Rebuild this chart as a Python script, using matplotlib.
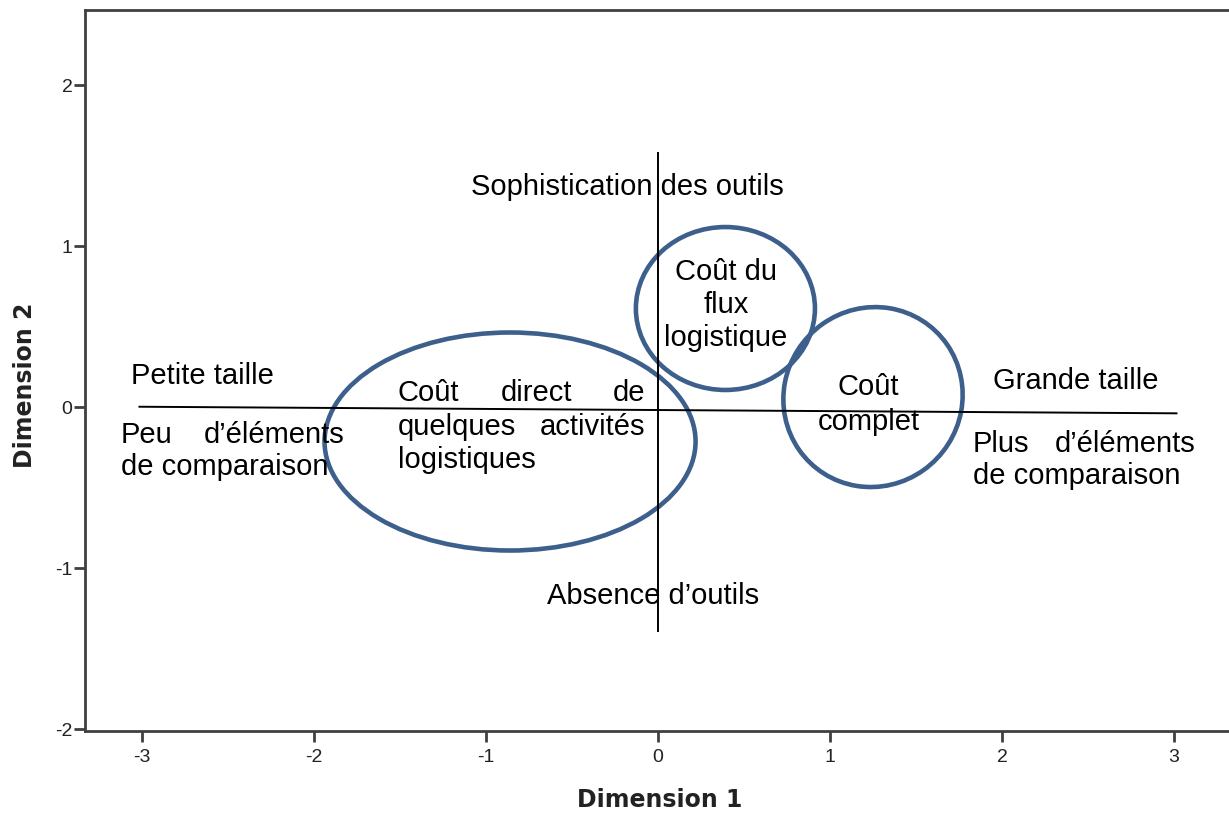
import matplotlib
matplotlib.use("Agg")
import matplotlib.pyplot as plt
from matplotlib.patches import Ellipse

# ---- data ----
x_ticks = [-3, -2, -1, 0, 1, 2, 3]
y_ticks = [-2, -1, 0, 1, 2]
x_label = "Dimension 1"
y_label = "Dimension 2"

# reference axes (horizontal: size axis, vertical: tool sophistication)
h_axis_x = [-3.02, 3.02]
h_axis_y = [0.002, -0.039]
v_axis_x = [0.0, 0.0]
v_axis_y = [1.584, -1.398]

# clusters: centre x, centre y, width, height, angle
cluster_cx = [-0.860, 0.392, 1.250]
cluster_cy = [-0.214, 0.612, 0.062]
cluster_w = [2.157, 1.041, 1.040]
cluster_h = [1.354, 1.012, 1.120]
cluster_angle = [0, 0, -10]

# text annotations: (text, x, y, ha)
annotations = [
    ("Sophistication des outils", -0.180, 1.368, "center"),
    ("Absence d\u2019outils", -0.029, -1.174, "center"),
    ("Coût du", 0.395, 0.840, "center"),
    ("flux", 0.395, 0.634, "center"),
    ("logistique", 0.395, 0.429, "center"),
    ("Coût", 1.224, 0.126, "center"),
    ("complet", 1.227, -0.091, "center"),
    ("Coût", -1.512, 0.087, "left"),
    ("direct", -0.705, 0.087, "center"),
    ("de", -0.076, 0.087, "right"),
    ("quelques", -1.512, -0.122, "left"),
    ("activités", -0.076, -0.122, "right"),
    ("logistiques", -1.512, -0.329, "left"),
    ("Petite taille", -3.064, 0.193, "left"),
    ("Peu", -3.122, -0.174, "left"),
    ("d\u2019éléments", -1.820, -0.174, "right"),
    ("de comparaison", -3.122, -0.373, "left"),
    ("Grande taille", 1.948, 0.161, "left"),
    ("Plus", 1.831, -0.230, "left"),
    ("d\u2019éléments", 3.122, -0.230, "right"),
    ("de comparaison", 1.831, -0.429, "left"),
]

# ---- figure ----
fig = plt.figure(figsize=(12.29, 8.14), dpi=100)
ax = fig.add_axes([85 / 1229, 83 / 814, (1232 - 85) / 1229, (731 - 10) / 814])
ax.set_xlim(-3.331, 3.337)
ax.set_ylim(-2.012, 2.466)

frame_col = "#404040"
for side in ["left", "bottom", "top"]:
    ax.spines[side].set_color(frame_col)
    ax.spines[side].set_linewidth(2.0)
ax.spines["right"].set_visible(False)

ax.set_xticks(x_ticks)
ax.set_yticks(y_ticks)
ax.set_xticklabels([str(v) for v in x_ticks])
ax.set_yticklabels([str(v) for v in y_ticks])
ax.tick_params(axis="both", direction="out", length=8, width=2.0, color=frame_col,
               labelsize=14, labelcolor="#222222")
ax.tick_params(axis="x", pad=5)
ax.tick_params(axis="y", pad=1)
for lab in ax.get_xticklabels() + ax.get_yticklabels():
    lab.set_fontfamily("Liberation Sans")

# reference lines
ax.plot(h_axis_x, h_axis_y, color="black", lw=1.4, solid_capstyle="butt")
ax.plot(v_axis_x, v_axis_y, color="black", lw=1.4, solid_capstyle="butt")

# cluster ellipses
ell_col = "#3c5f8c"
for cx, cy, w, h, a in zip(cluster_cx, cluster_cy, cluster_w, cluster_h, cluster_angle):
    ax.add_patch(Ellipse((cx, cy), w, h, angle=a, fill=False, edgecolor=ell_col, lw=3.3))

# annotations
for txt, x, y, ha in annotations:
    ax.text(x, y, txt, ha=ha, va="center", fontsize=21, family="Liberation Sans", color="black")

# axis labels
fig.text(660 / 1229, 1 - 800 / 814, x_label, ha="center", va="center",
         fontsize=17, fontweight="bold", family="DejaVu Sans", color="#222222")
fig.text(25 / 1229, 1 - 385 / 814, y_label, ha="center", va="center", rotation=90,
         fontsize=17, fontweight="bold", family="DejaVu Sans", color="#222222")

fig.savefig("out.png", dpi=100)
